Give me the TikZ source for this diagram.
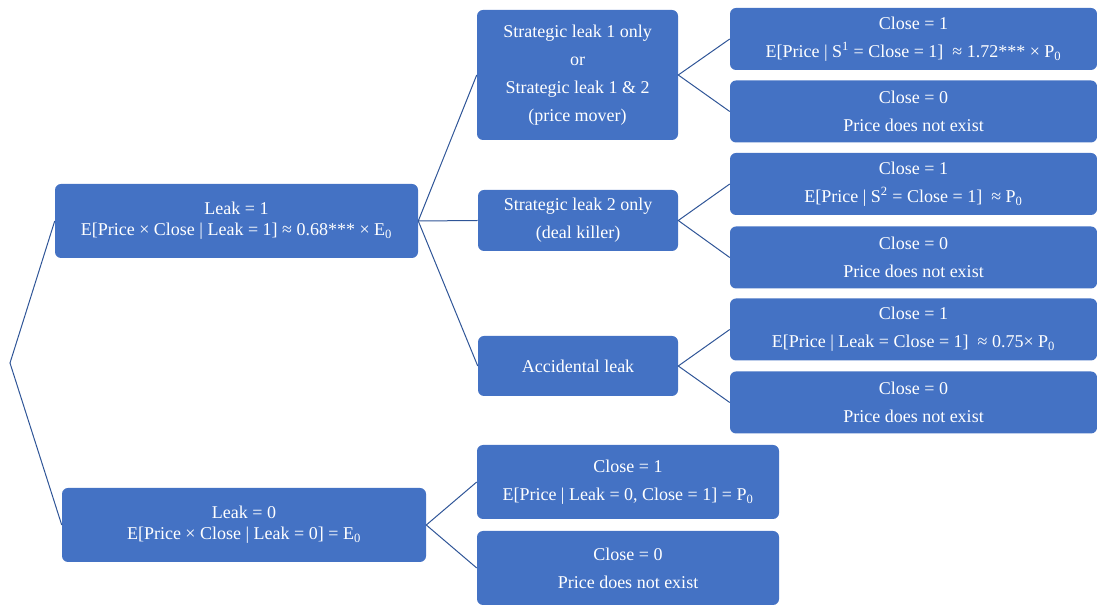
\documentclass[tikz,border=0pt]{standalone}
\usepackage{fontspec}
\setmainfont{Liberation Serif}
\definecolor{boxblue}{HTML}{4472C4}
\definecolor{lineblue}{HTML}{2F5597}
\begin{document}
\begin{tikzpicture}[x=0.75pt,y=-0.75pt,
  box/.style={draw=none, fill=boxblue, rounded corners=4.5pt, text=white, align=center, inner sep=0pt, font=\fontsize{13.5}{21}\selectfont},
  tight/.style={font=\fontsize{13.5}{15.75}\selectfont},
  conn/.style={draw=lineblue, line width=0.75pt}]
\useasboundingbox (0,0) rectangle (1097,605);
\node[box,tight,minimum width=272.25pt,minimum height=55.5pt] (leak1) at (236.5,221) {Leak = 1\\E[Price × Close | Leak = 1] ≈ 0.68*** × E\textsubscript{0}};
\node[box,tight,minimum width=273pt,minimum height=55.5pt] (leak0) at (244,525) {Leak = 0\\E[Price × Close | Leak = 0] = E\textsubscript{0}};
\node[box,minimum width=150.75pt,minimum height=97.5pt] (s1) at (577.5,75) {Strategic leak 1 only\\or\\Strategic leak 1 \& 2\\(price mover)};
\node[box,minimum width=150pt,minimum height=45.75pt] (s2) at (578,220.5) {Strategic leak 2 only\\(deal killer)};
\node[box,minimum width=150pt,minimum height=45pt] (acc) at (578,366) {Accidental leak};
\node[box,minimum width=275.25pt,minimum height=46.5pt] (c1a) at (913.5,39) {Close = 1\\E[Price | S\textsuperscript{1} = Close = 1]~~≈ 1.72*** × P\textsubscript{0}};
\node[box,minimum width=275.25pt,minimum height=46.5pt] (c0a) at (913.5,111.5) {Close = 0\\Price does not exist};
\node[box,minimum width=275.25pt,minimum height=46.5pt] (c1b) at (913.5,184) {Close = 1\\E[Price | S\textsuperscript{2} = Close = 1]~~≈ P\textsubscript{0}};
\node[box,minimum width=275.25pt,minimum height=46.5pt] (c0b) at (913.5,257.5) {Close = 0\\Price does not exist};
\node[box,minimum width=275.25pt,minimum height=46.5pt] (c1c) at (913.5,329.5) {Close = 1\\E[Price | Leak = Close = 1]~~≈ 0.75× P\textsubscript{0}};
\node[box,minimum width=275.25pt,minimum height=46.5pt] (c0c) at (913.5,402.5) {Close = 0\\Price does not exist};
\node[box,minimum width=226.5pt,minimum height=55.5pt] (l1) at (628,482) {Close = 1\\E[Price | Leak = 0, Close = 1] = P\textsubscript{0}};
\node[box,minimum width=226.5pt,minimum height=55.5pt] (l0) at (628,568) {Close = 0\\Price does not exist};
\coordinate (root) at (10,363);
\draw[conn] (leak1.west) -- (root) -- (leak0.west);
\draw[conn] (s1.west) -- (leak1.east) -- (acc.west);
\draw[conn] (leak1.east) -- (s2.west);
\draw[conn] (c1a.west) -- (s1.east) -- (c0a.west);
\draw[conn] (c1b.west) -- (s2.east) -- (c0b.west);
\draw[conn] (c1c.west) -- (acc.east) -- (c0c.west);
\draw[conn] (l1.west) -- (leak0.east) -- (l0.west);
\end{tikzpicture}
\end{document}
